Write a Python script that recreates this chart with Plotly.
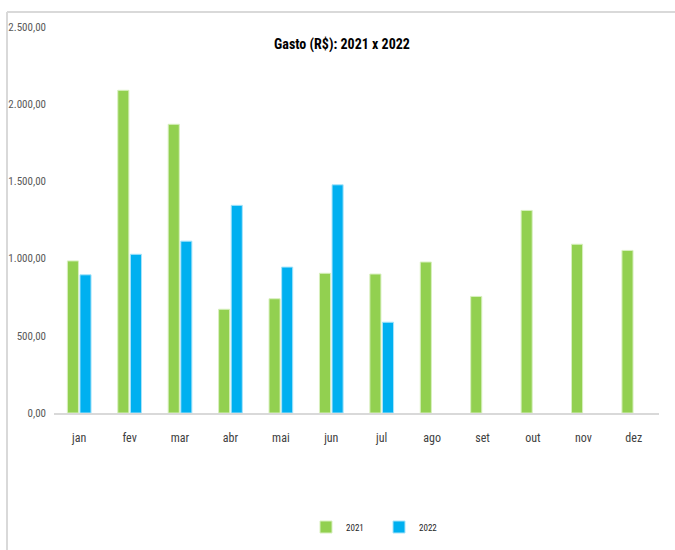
import plotly.graph_objects as go

months = ["jan", "fev", "mar", "abr", "mai", "jun", "jul", "ago", "set", "out", "nov", "dez"]
gasto_2021 = [985, 2090, 1870, 672, 740, 905, 900, 978, 755, 1312, 1093, 1053]
gasto_2022 = [895, 1028, 1113, 1345, 945, 1478, 588, None, None, None, None, None]

GREEN = "#92D050"
BLUE = "#00B0F0"
FONT = "'Roboto Condensed', 'Open Sans Condensed', 'DejaVu Sans Condensed', sans-serif"

fig = go.Figure()
fig.add_trace(go.Bar(name="2021", x=months, y=gasto_2021, marker=dict(color=GREEN, line=dict(color="#d8f0bf", width=1))))
fig.add_trace(go.Bar(name="2022", x=months, y=gasto_2022, marker=dict(color=BLUE, line=dict(color="#a8e4fa", width=1))))

L, R, T, B = 54, 16, 27, 137
W, H = 675, 550
pw, ph = W - L - R, H - T - B

def px_x(px):
    return (px - L) / pw

def px_y(py):
    return (H - B - py) / ph

fig.update_layout(
    width=W, height=H,
    margin=dict(l=L, r=R, t=T, b=B, autoexpand=False),
    paper_bgcolor="white", plot_bgcolor="white",
    separators=",.",
    barmode="group", bargap=0.5, bargroupgap=0.12,
    font=dict(family=FONT, color="#595959", size=10),
    title=dict(text="<b>Gasto (R$): 2021 x 2022</b>", x=px_x(342), xanchor="center", xref="paper",
               y=1 - 44 / H, yanchor="middle", font=dict(family=FONT, size=14, color="#000000")),
    showlegend=True,
    legend=dict(orientation="h", x=px_x(306), xanchor="left", y=px_y(527), yanchor="middle",
                font=dict(family=FONT, size=9, color="#262626"),
                itemwidth=30, entrywidth=28, entrywidthmode="pixels", bgcolor="rgba(0,0,0,0)"),
    shapes=[
        dict(type="line", xref="paper", yref="paper", x0=px_x(7), x1=px_x(680), y0=px_y(12), y1=px_y(12),
             line=dict(color="#d9d9d9", width=2)),
        dict(type="line", xref="paper", yref="paper", x0=px_x(7), x1=px_x(7), y0=px_y(12), y1=px_y(560),
             line=dict(color="#d9d9d9", width=2)),
    ],
)
fig.update_yaxes(range=[0, 2500], dtick=500, tickformat=",.2f", showgrid=False, zeroline=False,
                 showline=False, ticks="", ticklabelstandoff=7, automargin=False,
                 tickfont=dict(family=FONT, size=11, color="#595959"))
fig.update_xaxes(showline=True, linecolor="#d9d9d9", linewidth=2, ticks="", showgrid=False, automargin=False,
                 tickfont=dict(family=FONT, size=12, color="#404040"), ticklabelstandoff=13)

fig.write_html("out.html", config={"displayModeBar": False},
               post_script="document.body.style.margin='0';document.body.style.overflow='hidden';")
